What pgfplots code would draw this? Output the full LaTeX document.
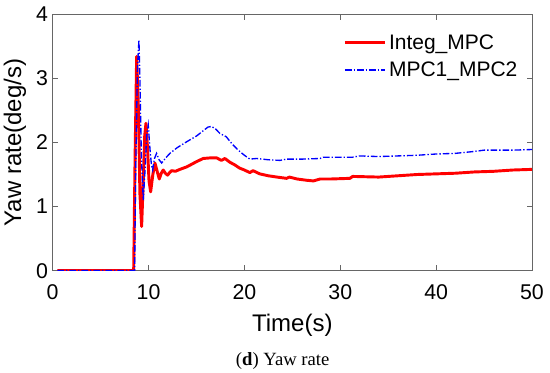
\documentclass[border=0pt]{standalone}
\usepackage{pgfplots}
\pgfplotsset{compat=1.18}
\usepackage{fontspec}
\setmainfont{Liberation Sans}
\newfontfamily\capfont{Liberation Serif}
\begin{document}
\begin{tikzpicture}
\useasboundingbox (0,0) rectangle (412.5pt,279.75pt);
\begin{axis}[
  at={(39.5pt,76.75pt)}, anchor=south west,
  scale only axis, width=359.5pt, height=192.3pt,
  xmin=0, xmax=50, ymin=0, ymax=4,
  xtick={0,10,20,30,40,50}, ytick={0,1,2,3,4},
  tick align=inside, tick pos=both, major tick length=4pt,
  axis line style={draw=black!60, line width=0.6pt},
  every tick/.style={draw=black!60, line width=0.6pt},
  /pgf/number format/assume math mode=true,
  ticklabel style={font=\fontsize{16}{18}\selectfont},
  xticklabel style={anchor=center, yshift=-16pt},
  yticklabel style={anchor=center, xshift=-8pt},
  xlabel={Time(s)}, ylabel={Yaw rate(deg/s)},
  label style={font=\fontsize{18}{21}\selectfont},
  xlabel style={at={(axis description cs:0.5,-0.215)}, anchor=center},
  ylabel style={at={(axis description cs:-0.079,0.5)}, anchor=center},
  legend style={draw=none, fill=none, at={(0.606,0.933)}, anchor=north west,
    font=\fontsize{15.75}{18}\selectfont, row sep=4pt, inner sep=0pt,
    cells={anchor=west}},
  legend image code/.code={\draw[#1] (0pt,0pt) -- (30pt,0pt);},
]
\addplot[red, line width=2.2pt, line join=round] coordinates {
(0.5,0) (8.45,0) (8.6,1.8) (8.76,3.34) (8.95,2.5) (9.1,1.2) (9.28,0.69)
(9.45,1.4) (9.6,2.1) (9.73,2.30) (9.9,1.9) (10.05,1.4) (10.22,1.23)
(10.45,1.5) (10.67,1.68) (10.9,1.55) (11.12,1.43) (11.33,1.52) (11.53,1.57)
(11.75,1.52) (11.99,1.49) (12.2,1.53) (12.41,1.56) (12.8,1.55) (13.27,1.58)
(14,1.62) (15,1.70) (15.7,1.75) (16.5,1.76) (17.1,1.76) (17.6,1.72)
(17.97,1.75) (18.5,1.69) (19,1.65) (19.5,1.60) (20,1.57) (20.57,1.53)
(20.9,1.56) (21.6,1.51) (22.5,1.48) (23.4,1.46) (24.4,1.44) (24.7,1.46)
(25.5,1.43) (26.5,1.41) (27.2,1.40) (27.9,1.43) (29,1.43) (31,1.44)
(31.3,1.47) (34,1.46) (36,1.48) (38,1.50) (40,1.51) (42,1.52) (44,1.54)
(46,1.55) (48,1.57) (50,1.58)
};
\addlegendentry{Integ\_MPC}
\addplot[blue, line width=1pt, dash pattern=on 5pt off 1.5pt on 1pt off 1.5pt] coordinates {
(0.5,0) (8.55,0) (8.65,1.5) (8.85,3.2) (9.0,3.6) (9.1,3.0) (9.25,1.8)
(9.45,1.10) (9.65,1.6) (9.8,2.1) (9.97,2.27) (10.15,1.9) (10.3,1.65)
(10.43,1.57) (10.62,1.75) (10.84,1.83) (11.1,1.73) (11.37,1.68) (11.8,1.76)
(12.23,1.83) (13,1.92) (13.97,2.01) (15,2.10) (16.2,2.24) (16.58,2.25)
(17,2.21) (17.45,2.14) (18.1,2.09) (18.7,1.98) (19.35,1.88) (20,1.80)
(20.57,1.74) (21.27,1.75) (22.5,1.73) (23.7,1.72) (24.4,1.74) (26,1.74)
(27.9,1.75) (28.2,1.77) (31.3,1.77) (32,1.79) (34,1.78) (36,1.79)
(38,1.80) (40,1.82) (42,1.83) (44,1.86) (45,1.88) (48,1.88) (50,1.89)
};
\addlegendentry{MPC1\_MPC2}
\end{axis}
\node[font=\capfont\fontsize{14}{16}\selectfont] at (212pt,9pt) {(\textbf{d}) Yaw rate};
\end{tikzpicture}
\end{document}
